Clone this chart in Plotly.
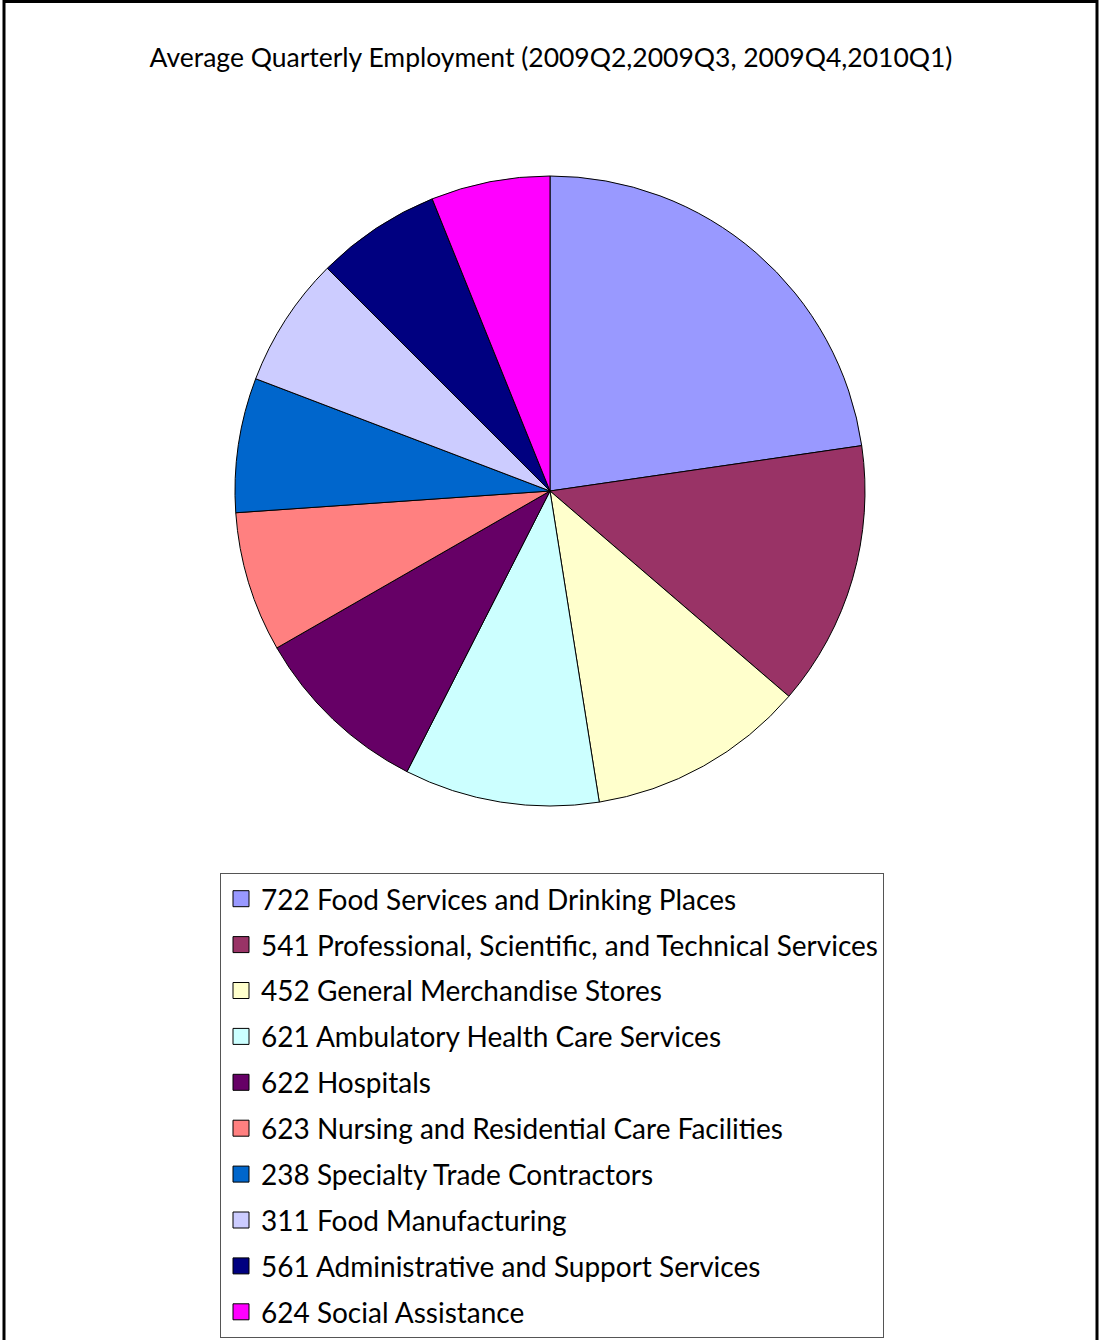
import plotly.graph_objects as go

W, H = 1099, 1340

categories = [
    "722 Food Services and Drinking Places",
    "541 Professional, Scientific, and Technical Services",
    "452 General Merchandise Stores",
    "621 Ambulatory Health Care Services",
    "622 Hospitals",
    "623 Nursing and Residential Care Facilities",
    "238 Specialty Trade Contractors",
    "311 Food Manufacturing",
    "561 Administrative and Support Services",
    "624 Social Assistance",
]
shares = [22.7, 13.6, 11.2, 10.0, 9.2, 7.2, 6.9, 6.7, 6.4, 6.1]
colors = ["#9999FF", "#993366", "#FFFFCC", "#CCFFFF", "#660066",
          "#FF8080", "#0066CC", "#CCCCFF", "#000080", "#FF00FF"]
title_text = "Average Quarterly Employment (2009Q2,2009Q3, 2009Q4,2010Q1)"

FONT = "Lato"

# pie geometry (pixels)
cx, cy, r = 550, 491, 315

fig = go.Figure()
fig.add_trace(go.Pie(
    labels=categories, values=shares, sort=False, direction="clockwise",
    rotation=0, marker=dict(colors=colors, line=dict(color="black", width=1)),
    textinfo="none", showlegend=False,
    domain=dict(x=[(cx - r) / W, (cx + r) / W], y=[1 - (cy + r) / H, 1 - (cy - r) / H]),
))

for i, (c, col) in enumerate(zip(categories, colors)):
    fig.add_trace(go.Scatter(
        x=[None], y=[None], mode="markers", name=c, legendgroup=f"g{i}",
        marker=dict(symbol="square", size=16, color=col, line=dict(color="black", width=1)),
    ))

fig.update_layout(
    width=W, height=H, margin=dict(l=0, r=0, t=0, b=0),
    paper_bgcolor="white", plot_bgcolor="white",
    font=dict(family=FONT, color="black"),
    title=dict(text=title_text, x=551 / W, xanchor="center", y=1 - 58 / H, yanchor="middle",
               font=dict(family=FONT, size=26.5, color="black")),
    xaxis=dict(visible=False), yaxis=dict(visible=False),
    legend=dict(x=220 / W, y=1 - 873 / H, xanchor="left", yanchor="top",
                bordercolor="#555555", borderwidth=1, bgcolor="white",
                font=dict(family=FONT, size=28, color="black"),
                tracegroupgap=6.5),
    shapes=[dict(type="rect", xref="paper", yref="paper",
                 x0=4 / W, x1=1097 / W, y0=-0.01, y1=1 - 1.5 / H,
                 line=dict(color="black", width=3))],
)

fig.write_html("out.html")
